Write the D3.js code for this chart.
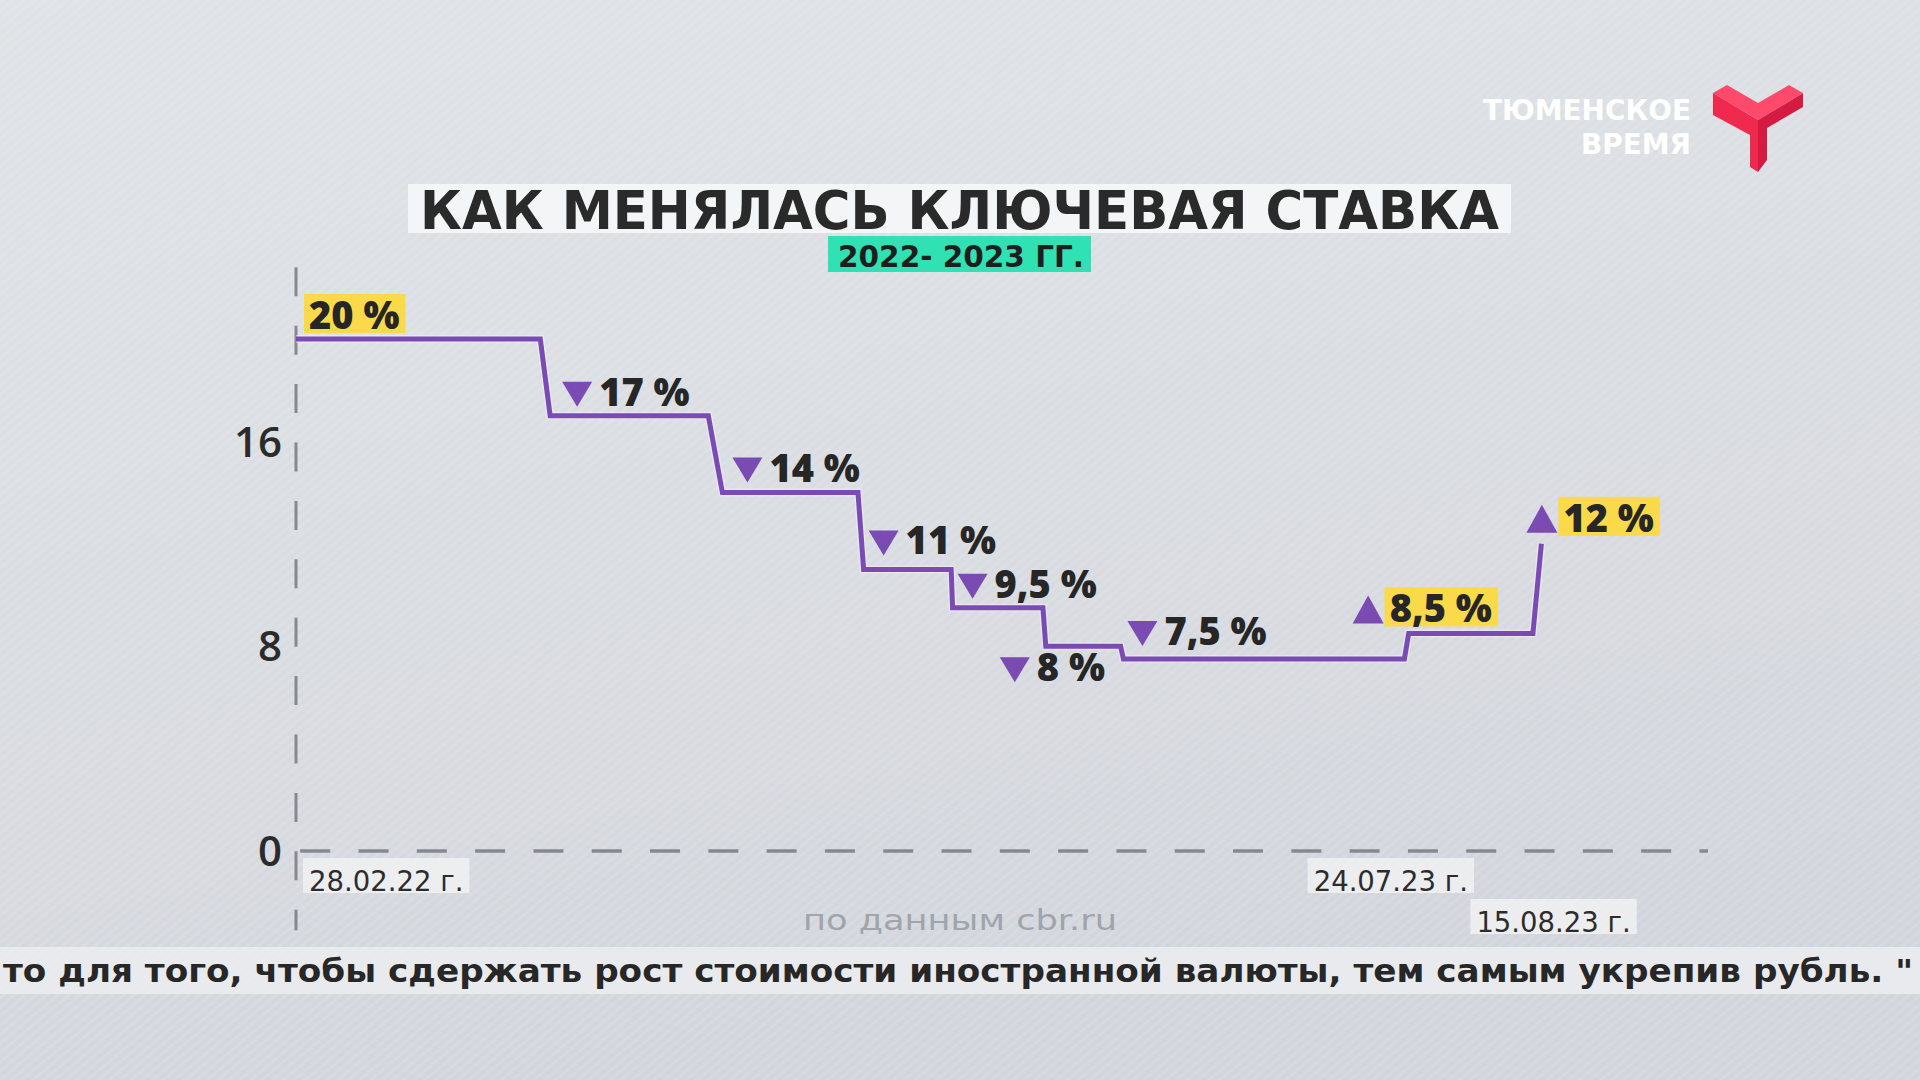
<!DOCTYPE html>
<html><head><meta charset="utf-8">
<script src="https://cdn.jsdelivr.net/npm/d3@7"></script>
<style>html,body{margin:0;padding:0;background:#dadde2;overflow:hidden}svg{display:block}</style>
</head><body>
<svg id="c" width="1920" height="1080"></svg>
<script>
// ---- data ----
const rates      = [20, 17, 14, 11, 9.5, 8, 7.5, 8.5, 12];
const direction  = ["start","down","down","down","down","down","down","up","up"];
const highlighted= [true,false,false,false,false,false,false,true,true];
// position of each level on the (stylised, non-proportional) timeline, 0..1000
const segStart   = [0, 180, 302, 402, 465, 531, 586, 788, 882];
const segEnd     = [173, 292, 398, 464, 529, 584, 785, 876, 882];
const yTicks     = [16, 8, 0];
const dateLabels = ["28.02.22 г.", "24.07.23 г.", "15.08.23 г."];
const dateIndex  = [0, 7, 8];
const titleText    = "КАК МЕНЯЛАСЬ КЛЮЧЕВАЯ СТАВКА";
const subtitleText = "2022- 2023 ГГ.";
const sourceText   = "по данным cbr.ru";
const tickerText   = "то для того, чтобы сдержать рост стоимости иностранной валюты, тем самым укрепив рубль. \"";
const brandLines   = ["ТЮМЕНСКОЕ", "ВРЕМЯ"];

// ---- layout ----
const labelDx = [13, 12, 10, 5, 5, -46, 4, -56, -15];
const labelDy = [-10, -10, -11, -15, -10, 35, -14, -11, -12];
const dateDx  = [7, -101, -71];
const dateRow = [0, 0, 1];

const purple = "#7a4bb3", yellow = "#fad94a", green = "#30e2b3", ink = "#262626";
const svg = d3.select("#c");

// background
const defs = svg.append("defs");
const bg = defs.append("linearGradient").attr("id","bg").attr("x1",0).attr("y1",0).attr("x2",0.3).attr("y2",1);
bg.append("stop").attr("offset","0").attr("stop-color","#e0e3e7");
bg.append("stop").attr("offset","0.6").attr("stop-color","#d9dce1");
bg.append("stop").attr("offset","1").attr("stop-color","#d2d6dc");
const pat = defs.append("pattern").attr("id","stripes").attr("width",7).attr("height",7)
  .attr("patternUnits","userSpaceOnUse").attr("patternTransform","rotate(-40)");
pat.append("rect").attr("width",7).attr("height",3).attr("fill","#ffffff").attr("opacity",0.09);
svg.append("rect").attr("width",1920).attr("height",1080).attr("fill","url(#bg)");
svg.append("rect").attr("width",1920).attr("height",1080).attr("fill","url(#stripes)");

// scales
const x = d3.scaleLinear().domain([0, 1000]).range([296, 1708]);
const y = d3.scaleLinear().domain([0, 20]).range([851, 339]);

// axes (dashed)
svg.append("line").attr("x1", x(0)).attr("x2", x(0)).attr("y1", y(22.8)).attr("y2", y(-3.1))
  .attr("stroke","#868990").attr("stroke-width",3).attr("stroke-dasharray","29 29.4");
svg.append("line").attr("x1", x(3)).attr("x2", x(1000)).attr("y1", y(0)).attr("y2", y(0))
  .attr("stroke","#868990").attr("stroke-width",3.5).attr("stroke-dasharray","30 28.3");

svg.append("g").selectAll("text").data(yTicks).join("text")
  .attr("x", 282).attr("y", d => y(d)).attr("dy","0.36em").attr("text-anchor","end")
  .attr("font-family","'Open Sans', sans-serif").attr("font-weight",600).attr("font-size",42)
  .attr("fill","#2b2b2b").text(d => d);

// step line
const pts = [];
rates.forEach((r,i) => {
  pts.push([segStart[i], r]);
  if (segEnd[i] !== segStart[i]) pts.push([segEnd[i], r]);
});
svg.append("path").datum(pts)
  .attr("d", d3.line().x(d => x(d[0])).y(d => y(d[1])))
  .attr("fill","none").attr("stroke","#f3f1f7").attr("stroke-width",8).attr("opacity",0.5);
svg.append("path").datum(pts)
  .attr("d", d3.line().x(d => x(d[0])).y(d => y(d[1])))
  .attr("fill","none").attr("stroke",purple).attr("stroke-width",5).attr("stroke-linejoin","miter");

// rate labels
const fmt = v => String(v).replace(".", ",") + " %";
const lg = svg.append("g");
rates.forEach((r,i) => {
  const px = x(segStart[i]) + labelDx[i];
  const base = y(r) + labelDy[i];
  const g = lg.append("g");
  let tx = px;
  if (direction[i] === "down") {
    g.append("path").attr("d", `M${px},${base-24}L${px+30},${base-24}L${px+15},${base+1}Z`).attr("fill",purple);
    tx = px + 37;
  } else if (direction[i] === "up") {
    g.append("path").attr("d", `M${px},${base+1}L${px+31},${base+1}L${px+15.5},${base-27}Z`).attr("fill",purple);
    tx = px + 37;
  }
  const t = g.append("text").attr("x", tx).attr("y", base)
    .attr("font-family","'Open Sans', sans-serif").attr("font-weight",800).attr("font-size",38)
    .attr("fill", ink).text(fmt(r));
  if (highlighted[i]) {
    const w = t.node().getComputedTextLength();
    g.insert("rect","text").attr("x", tx - 5).attr("y", base - 35).attr("width", w + 11).attr("height", 39).attr("fill", yellow);
  }
});

// date labels
dateLabels.forEach((d,k) => {
  const i = dateIndex[k];
  const bx = x(segStart[i]) + dateDx[k];
  const base = y(0) + 40 + dateRow[k] * 41;
  const g = svg.append("g");
  const t = g.append("text").attr("x", bx + 6).attr("y", base)
    .attr("font-family","'DejaVu Sans', sans-serif").attr("font-size",27.5).attr("fill","#2c2c2c").text(d);
  const w = t.node().getComputedTextLength();
  g.insert("rect","text").attr("x", bx).attr("y", base - 33).attr("width", w + 12).attr("height", 35)
    .attr("fill","#eff0f2").attr("opacity",0.9);
});

// source note
svg.append("text").attr("x", 960).attr("y", 930).attr("text-anchor","middle")
  .attr("font-family","'DejaVu Sans', sans-serif").attr("font-size",29).attr("fill","#a0a4ab")
  .attr("textLength",314).attr("lengthAdjust","spacingAndGlyphs").text(sourceText);

// title
svg.append("rect").attr("x",408).attr("y",184).attr("width",1103).attr("height",49).attr("fill","#f4f5f6");
svg.append("text").attr("x", 959.5).attr("y", 229).attr("text-anchor","middle")
  .attr("font-family","'DejaVu Sans', sans-serif").attr("font-weight",700).attr("font-size",53)
  .attr("fill","#2a2a2a").attr("textLength",1079).attr("lengthAdjust","spacingAndGlyphs").text(titleText);
svg.append("rect").attr("x",828).attr("y",236).attr("width",263).attr("height",36).attr("fill",green);
svg.append("text").attr("x", 961).attr("y", 267).attr("text-anchor","middle")
  .attr("font-family","'DejaVu Sans', sans-serif").attr("font-weight",700).attr("font-size",30)
  .attr("fill","#1e1e1e").attr("textLength",246).attr("lengthAdjust","spacingAndGlyphs").text(subtitleText);

// brand
svg.append("g").selectAll("text").data(brandLines).join("text")
  .attr("x",1691).attr("y",(d,i) => 120 + i*34).attr("text-anchor","end")
  .attr("font-family","'DejaVu Sans', sans-serif").attr("font-weight",700).attr("font-size",29)
  .attr("fill","#ffffff").attr("textLength",(d,i)=> i===0 ? 208 : 110).attr("lengthAdjust","spacingAndGlyphs")
  .text(d => d);
const logo = svg.append("g");
logo.append("polygon").attr("points","1713,93 1758,120 1758,172 1750,167 1750,135 1713,115").attr("fill","#f02a4f");
logo.append("polygon").attr("points","1758,120 1803,93 1803,107 1767,128 1767,160 1758,172").attr("fill","#d41c43");
logo.append("polygon").attr("points","1713,93 1727,85 1758,103 1789,85 1803,93 1758,120").attr("fill","#ff4a6c");

// ticker
svg.append("rect").attr("x",0).attr("y",947).attr("width",1920).attr("height",47).attr("fill","#eaebee").attr("opacity",0.92);
svg.append("text").attr("x",1913).attr("y",982).attr("text-anchor","end")
  .attr("font-family","'DejaVu Sans', sans-serif").attr("font-weight",700).attr("font-size",32)
  .attr("fill","#272727").attr("textLength",1910).attr("lengthAdjust","spacingAndGlyphs").text(tickerText);
</script>
</body></html>
